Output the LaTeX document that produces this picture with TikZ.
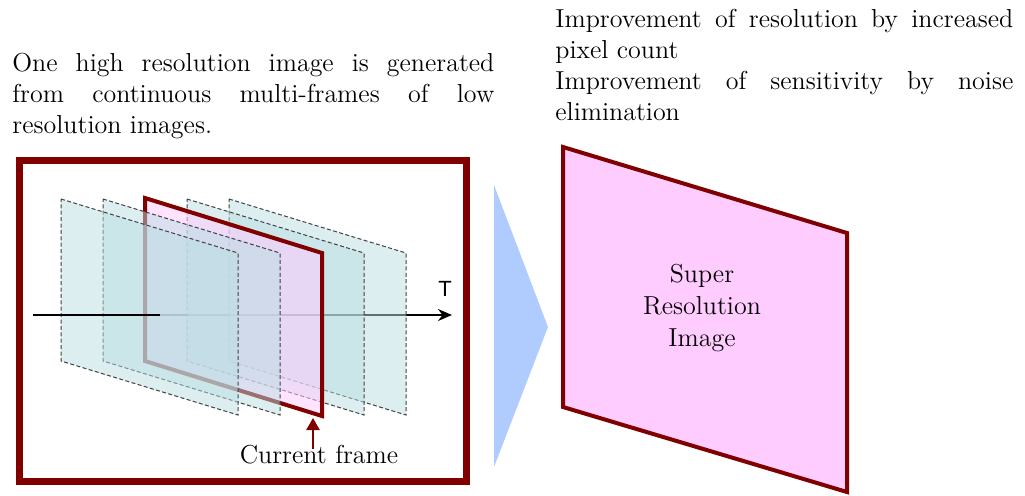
\documentclass[tikz,border=0pt]{standalone}
\usepackage{fontspec}
\usepackage{xcolor}
\usetikzlibrary{arrows.meta}
\newfontfamily\axisfont{Liberation Sans}
\definecolor{darkred}{RGB}{128,0,0}
\definecolor{framecyan}{RGB}{185,222,226}
\definecolor{srpink}{RGB}{255,204,255}
\definecolor{chevblue}{RGB}{176,204,255}

\begin{document}
\begin{tikzpicture}[
  x=0.5pt, y=-0.5pt,
  desc/.style={
    anchor=north west, inner sep=0pt, align=justify,
    font=\fontsize{13}{15.5}\selectfont
  },
  outerbox/.style={
    draw=darkred, line width=3.5pt
  },
  lowres/.style={
    draw=black!75, dash pattern=on 2pt off 1.2pt, line width=0.5pt,
    fill=framecyan, fill opacity=0.5
  },
  curframe/.style={
    draw=darkred, line width=2pt, fill=srpink, fill opacity=0.55
  },
  srframe/.style={
    draw=darkred, line width=2pt, fill=srpink
  },
  axis/.style={
    -{Stealth[length=7pt, width=6pt]}, line width=1pt, color=black
  },
  cfarrow/.style={
    -{Triangle[length=6pt, width=6.5pt]}, line width=1.2pt, color=darkred
  },
  lbl/.style={
    font=\fontsize{13}{16}\selectfont, align=center, inner sep=0pt
  }
]
\useasboundingbox (0,0) rectangle (1025,495);

% Descriptions
\node[desc, text width=241pt] (lefttxt) at (12,53)
  {One high resolution image is generated\linebreak
   from continuous multi-frames of low\linebreak
   resolution images.};
\node[desc, text width=229pt] (righttxt) at (555,9)
  {Improvement of resolution by increased\linebreak pixel count\par
   Improvement of sensitivity by noise\linebreak elimination};

% Outer box
\coordinate (boxnw) at (19.5,160);
\coordinate (boxse) at (466,481);
\draw[outerbox] (boxnw) rectangle (boxse);

% Time axis
\coordinate (tstart) at (33,315);
\coordinate (tmid) at (160,315);
\coordinate (tend) at (452,315);
\draw[axis] (tstart) -- (tend);
\node[font=\axisfont\fontsize{11}{13}\selectfont, inner sep=0pt] (tlab) at (445,289) {T};

% Frames behind the current one
\foreach \dx in {229,187}
  \draw[lowres] (\dx,199) -- ++(177,54) -- ++(0,162) -- ++(-177,-54) -- cycle;

% Current frame
\draw[curframe] (145,198) -- ++(177,55) -- ++(0,163) -- ++(-177,-55) -- cycle;

% Frames in front
\foreach \dx in {103,61}
  \draw[lowres] (\dx,199) -- ++(177,54) -- ++(0,162) -- ++(-177,-54) -- cycle;

\draw[line width=1pt] (tstart) -- (tmid);

% Current frame label
\coordinate (cfbottom) at (313,418);
\node[lbl] (cflab) at (319,455) {Current frame};
\draw[cfarrow] ([yshift=-2pt]cflab.north -| cfbottom) -- (cfbottom);

% Chevron
\fill[chevblue] (494,185) -- (548,327) -- (494,467) -- cycle;

% Super resolution image
\draw[srframe] (563,147) -- (847,233) -- (847,492) -- (563,407) -- cycle;
\node[lbl] (srimg) at (702,308) {Super\\Resolution\\Image};

\end{tikzpicture}
\end{document}
